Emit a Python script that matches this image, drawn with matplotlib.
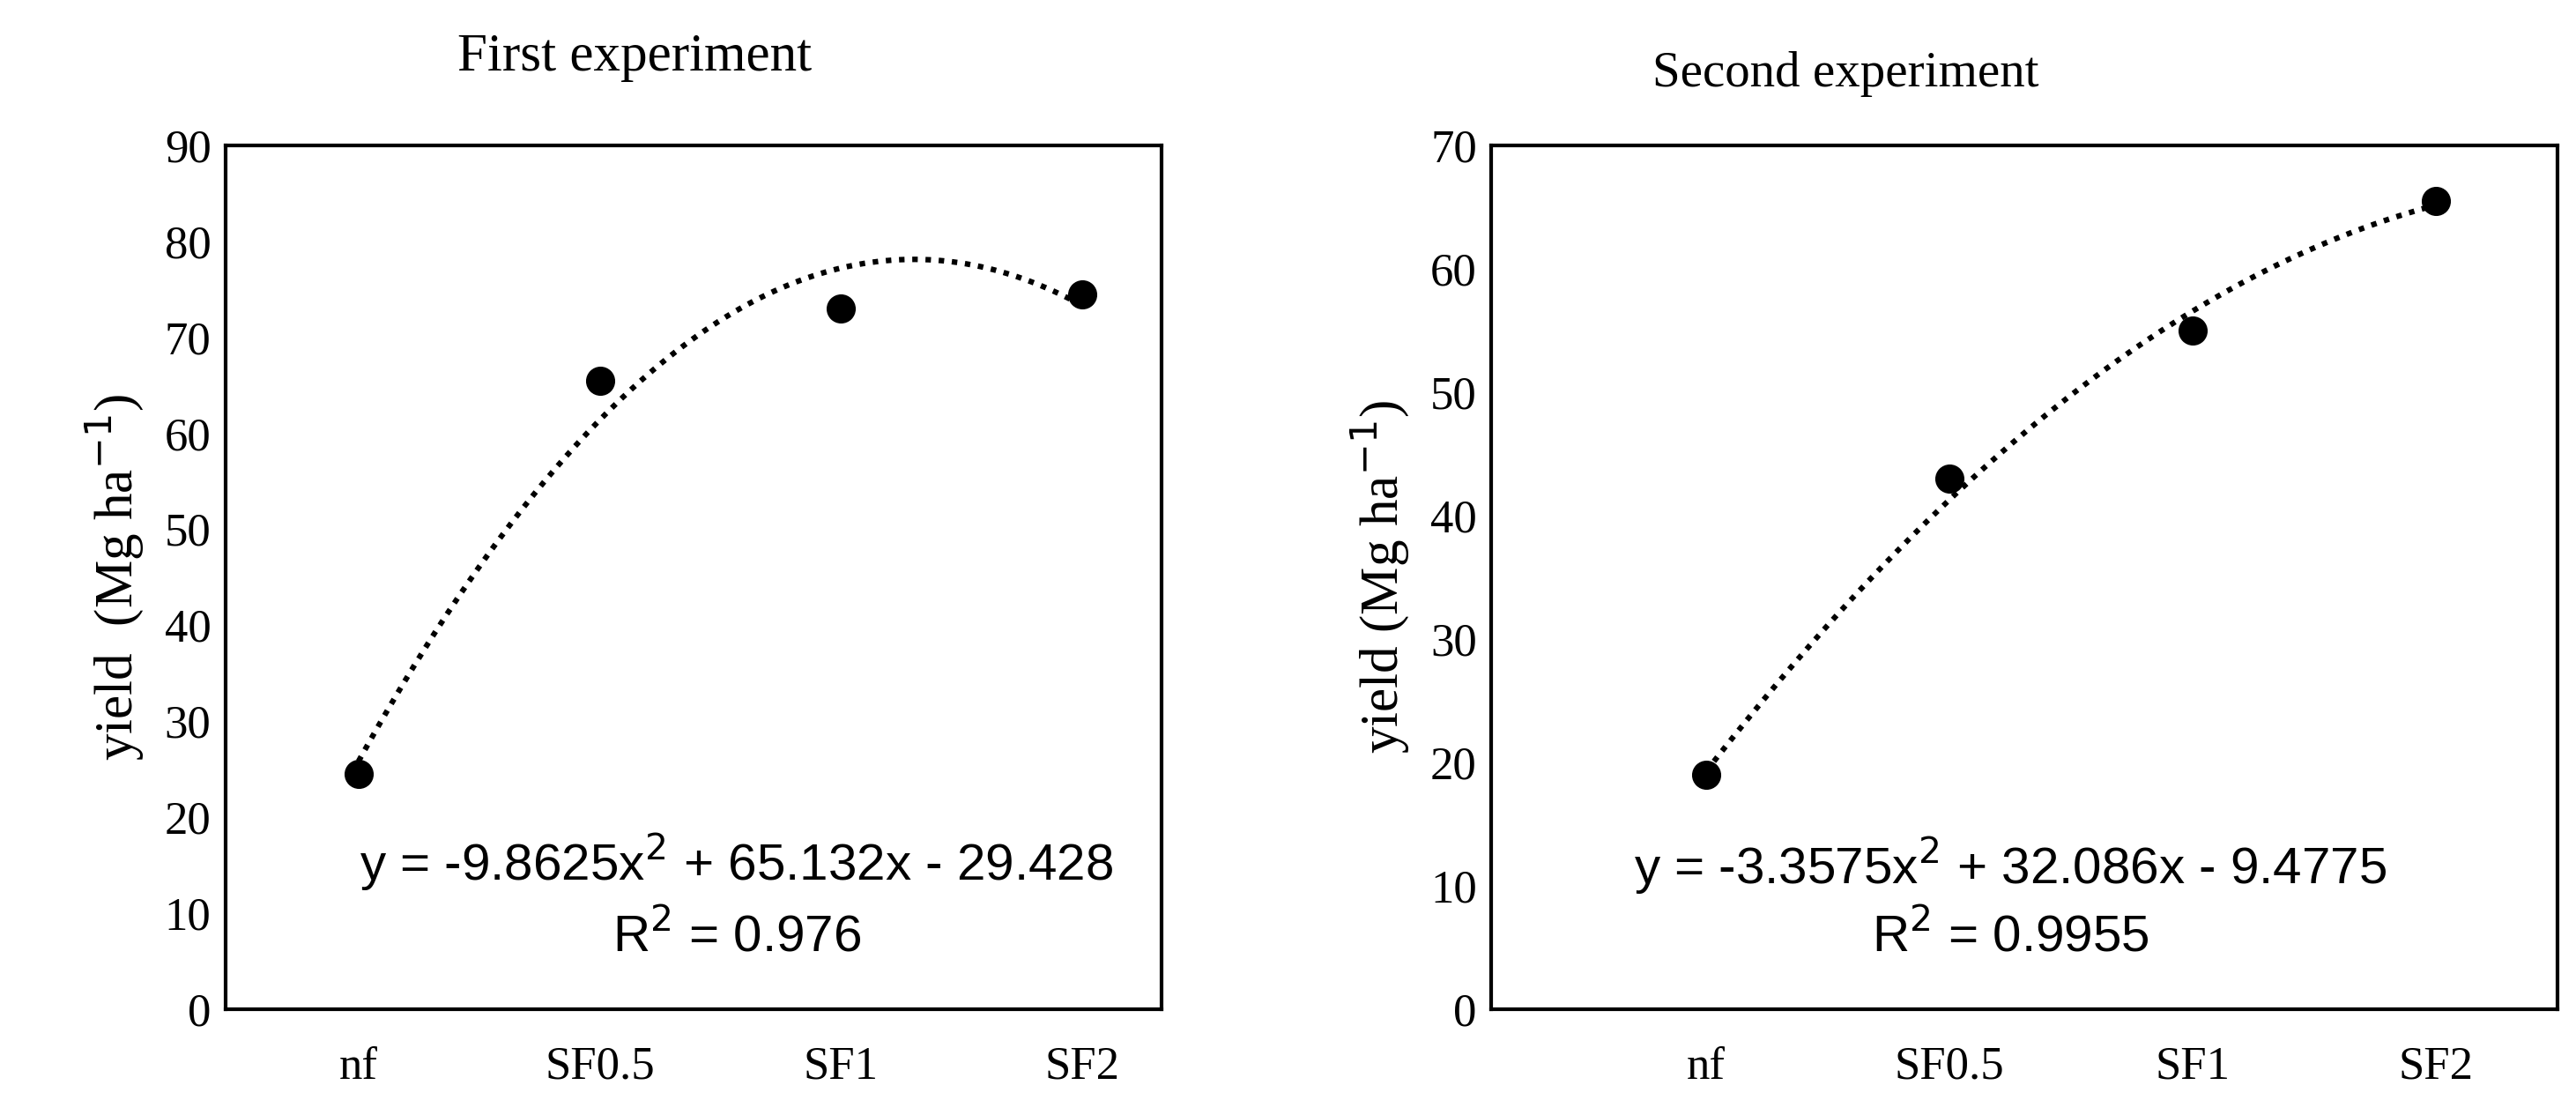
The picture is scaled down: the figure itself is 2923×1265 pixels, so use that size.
import numpy as np
import matplotlib
matplotlib.use("Agg")
import matplotlib.pyplot as plt

cats = ["nf", "SF0.5", "SF1", "SF2"]
y1 = [24.5, 65.5, 73.0, 74.5]
y2 = [19.0, 43.0, 55.0, 65.5]
coef1 = [-9.8625, 65.132, -29.428]
coef2 = [-3.3575, 32.086, -9.4775]

W, H = 1563, 676
fig = plt.figure(figsize=(29.23, 12.65), dpi=100)
serif = "Liberation Serif"
sans = "Liberation Sans"

def box(l, r, t, b):
    return [l / W, 1 - b / H, (r - l) / W, (b - t) / H]

def panel(rect, ys, coef, ymax, xlim, ylabel):
    ax = fig.add_axes(rect)
    x = np.arange(1, 5)
    xs = np.linspace(1, 4, 200)
    ax.plot(xs, np.polyval(coef, xs), color="black", ls=(0, (1, 1.4)), lw=4.5)
    ax.scatter(x, ys, s=520, color="black", zorder=3)
    ax.set_xlim(*xlim)
    ax.set_ylim(0, ymax)
    ax.set_yticks(np.arange(0, ymax + 1, 10))
    ax.set_xticks(x)
    ax.set_xticklabels(cats)
    ax.tick_params(axis="x", length=0, pad=30)
    ax.tick_params(axis="y", length=0, pad=12)
    for lab in ax.get_xticklabels() + ax.get_yticklabels():
        lab.set_fontfamily(serif)
        lab.set_fontsize(38)
    for s in ax.spines.values():
        s.set_linewidth(3)
    ax.set_ylabel(ylabel, fontfamily=serif, fontsize=44, labelpad=16)
    return ax

panel(box(137, 705, 88, 612), y1, coef1, 90, (0.45, 4.33),
      "yield  (Mg ha$^{-1}$)")
panel(box(905, 1552, 88, 612), y2, coef2, 70, (0.12, 4.5),
      "yield (Mg ha$^{-1}$)")

fig.text(385 / W, 1 - 35 / H, "First experiment", family=serif, fontsize=44, ha="center", va="center")
fig.text(1120 / W, 1 - 45 / H, "Second experiment", family=serif, fontsize=41, ha="center", va="center")

fig.text(447 / W, 1 - 523 / H, "y = -9.8625x$^2$ + 65.132x - 29.428", family=sans, fontsize=42, ha="center", va="center")
fig.text(447 / W, 1 - 568 / H, "R$^2$ = 0.976", family=sans, fontsize=42, ha="center", va="center")
fig.text(1220 / W, 1 - 525 / H, "y = -3.3575x$^2$ + 32.086x - 9.4775", family=sans, fontsize=42, ha="center", va="center")
fig.text(1220 / W, 1 - 568 / H, "R$^2$ = 0.9955", family=sans, fontsize=42, ha="center", va="center")

fig.savefig("out.png", dpi=100)
